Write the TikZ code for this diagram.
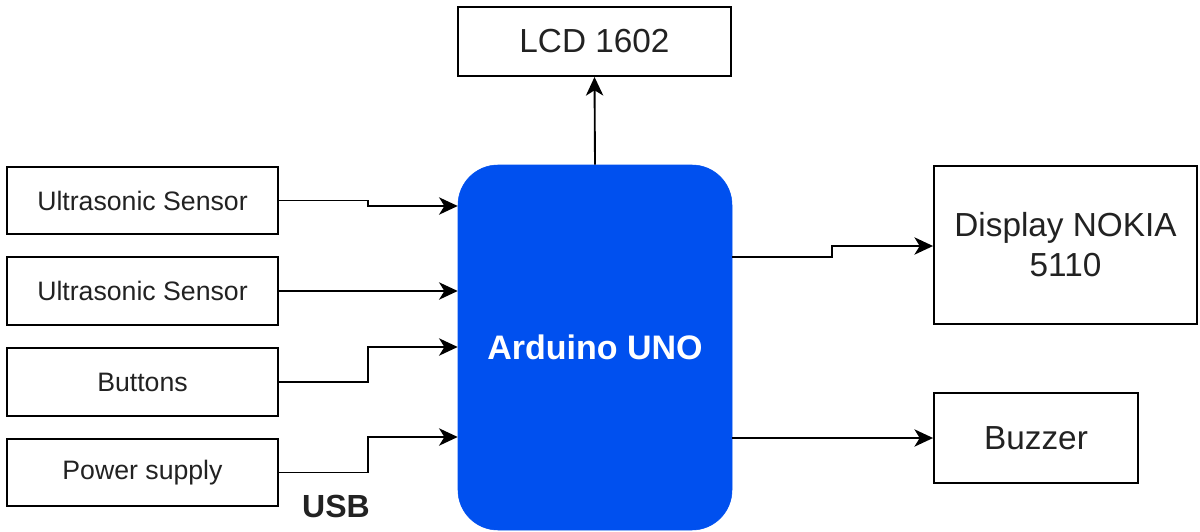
\documentclass[tikz,border=0pt]{standalone}
\usepackage{fontspec}
\setmainfont{Liberation Sans}
\usetikzlibrary{arrows.meta}
\definecolor{ardblue}{HTML}{0050EF}
\definecolor{txt}{HTML}{222222}
\tikzset{
  box/.style={draw=black, line width=1.4pt, fill=white, rectangle, inner sep=0pt, align=center, text=txt},
  smalltxt/.style={font=\fontsize{20}{24}\selectfont},
  bigtxt/.style={font=\fontsize{25}{30}\selectfont},
  conn/.style={draw=black, line width=1.4pt, -{Stealth[length=14pt,width=13pt,inset=4pt]}},
}
\begin{document}
\begin{tikzpicture}[x=0.75pt,y=-0.75pt]
\useasboundingbox (0,0) rectangle (1200,532);
% left boxes
\node[box,smalltxt,minimum width=203.25pt,minimum height=50.6pt] (us1) at (142.5,200.5) {Ultrasonic Sensor};
\node[box,smalltxt,minimum width=203.25pt,minimum height=50.6pt] (us2) at (142.5,291) {Ultrasonic Sensor};
\node[box,smalltxt,minimum width=203.25pt,minimum height=50.6pt] (btn) at (142.5,382) {Buttons};
\node[box,smalltxt,minimum width=203.25pt,minimum height=50.6pt] (pwr) at (142.5,472.5) {Power supply};
% Arduino
\node[fill=ardblue, draw=ardblue, rounded corners=30pt, minimum width=205.5pt, minimum height=273.75pt, inner sep=0pt, text=white, font=\fontsize{25.5}{30}\selectfont\bfseries] (ard) at (595,347.5) {Arduino UNO};
% outputs
\node[box,bigtxt,minimum width=204.75pt,minimum height=51.75pt] (lcd) at (594.5,41.5) {LCD 1602};
\node[box,bigtxt,minimum width=197.25pt,minimum height=118.5pt] (nok) at (1065.5,245) {Display NOKIA\\5110};
\node[box,bigtxt,minimum width=153pt,minimum height=67.5pt] (buz) at (1036,438) {Buzzer};
% USB label
\node[font=\fontsize{24}{28}\selectfont\bfseries, text=txt, inner sep=0pt] (usb) at (336,506) {USB};
% helper coordinates
\coordinate (j1) at (368,206);
\coordinate (j3) at (368,347);
\coordinate (j4) at (368,437);
\coordinate (o1) at (732,257);
\coordinate (k1) at (832,246);
% connectors
\draw[conn] (us1.east) -| (j1) -- (ard.west |- j1);
\draw[conn] (us2.east) -- (ard.west |- us2.east);
\draw[conn] (btn.east) -| (j3) -- (ard.west |- j3);
\draw[conn] (pwr.east) -| (j4) -- (ard.west |- j4);
\draw[conn] (ard.north) -- (lcd.south);
\draw[conn] (ard.east |- o1) -| (k1) -- (nok.west |- k1);
\draw[conn] (ard.east |- buz.west) -- (buz.west);
\end{tikzpicture}
\end{document}
